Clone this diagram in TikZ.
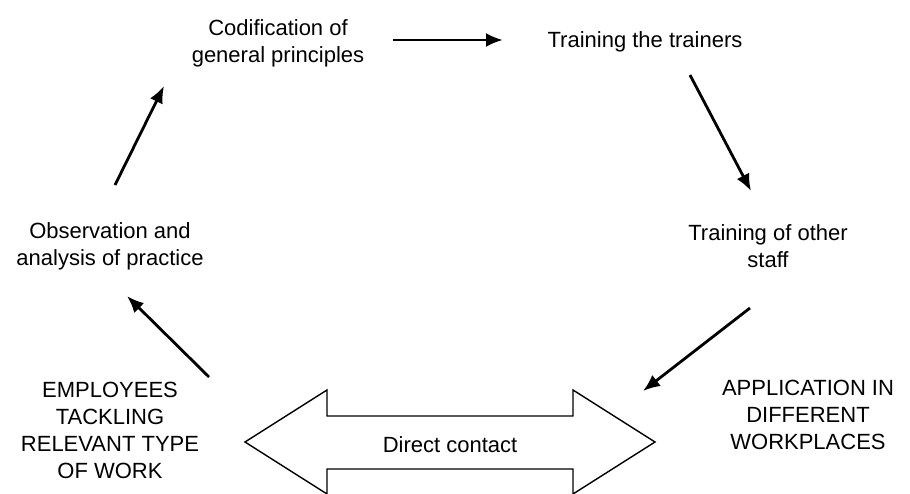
\documentclass[tikz,border=0pt]{standalone}
\usepackage{fontspec}
\setmainfont{Liberation Sans}
\usetikzlibrary{arrows.meta}
\begin{document}
\begin{tikzpicture}[x=1pt,y=-1pt,
  lbl/.style={align=center,inner sep=0pt,font=\fontsize{22}{27}\selectfont},
  conn/.style={line width=2.8pt,-{Latex[length=17pt,width=14pt]}},
  bigarrow/.style={draw=black,line width=1.4pt,fill=white,line join=miter}]
\useasboundingbox (0,0) rectangle (910,494);
\node[lbl] (cod) at (278,43) {Codification of\\general principles};
\node[lbl] (tt) at (645,42) {Training the trainers};
\node[lbl] (tos) at (768,246) {Training of other\\staff};
\node[lbl] (app) at (808,415) {APPLICATION IN\\DIFFERENT\\WORKPLACES};
\node[lbl] (emp) at (110,430) {EMPLOYEES\\TACKLING\\RELEVANT TYPE\\OF WORK};
\node[lbl] (obs) at (110,246) {Observation and\\analysis of practice};
% connectors
\coordinate (c1s) at (393,40); \coordinate (c1e) at (503,40);
\coordinate (c2s) at (690,75); \coordinate (c2e) at (751,191);
\coordinate (c3s) at (750,308); \coordinate (c3e) at (643,391);
\coordinate (c4s) at (209,377); \coordinate (c4e) at (127,296);
\coordinate (c5s) at (115,185); \coordinate (c5e) at (164,86);
\draw[conn] (c1s) -- (c1e);
\draw[conn] (c2s) -- (c2e);
\draw[conn] (c3s) -- (c3e);
\draw[conn] (c4s) -- (c4e);
\draw[conn] (c5s) -- (c5e);
% big double arrow
\draw[bigarrow] (245,442) -- (327,390) -- (327,416) -- (573,416) -- (573,390) -- (655,442)
  -- (573,494) -- (573,469) -- (327,469) -- (327,494) -- cycle;
\node[lbl] (dc) at (450,445) {Direct contact};
\end{tikzpicture}
\end{document}
